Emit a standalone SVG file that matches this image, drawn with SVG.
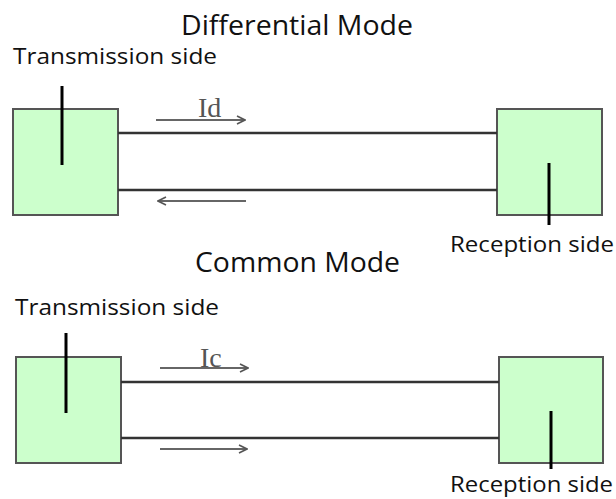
<svg xmlns="http://www.w3.org/2000/svg" width="616" height="499" viewBox="0 0 616 499">
  <defs>
    <marker id="open" viewBox="0 0 10 10" refX="9" refY="5" markerWidth="10" markerHeight="10" markerUnits="userSpaceOnUse" orient="auto">
      <path d="M1,1 L9,5 L1,9" fill="none" stroke="#555" stroke-width="1.6"/>
    </marker>
  </defs>
  <style>
    .box { fill: #ccffcc; stroke: #555; stroke-width: 2; }
    .stub { stroke: #000; stroke-width: 3; }
    .wire { stroke: #333; stroke-width: 2.5; fill: none; }
    .flow { stroke: #666; stroke-width: 2; fill: none; marker-end: url(#open); }
    .title { font-family: "Open Sans", sans-serif; font-size: 27px; fill: #111; }
    .side { font-family: "Open Sans", sans-serif; font-size: 21px; fill: #111; }
    .cur { font-family: "Liberation Serif", serif; font-size: 28px; fill: #555; }
  </style>
  <rect width="616" height="499" fill="#fff"/>

  <!-- differential mode -->
  <text class="title" x="181" y="35" textLength="232" lengthAdjust="spacingAndGlyphs">Differential Mode</text>
  <text class="side" x="13" y="64" textLength="204" lengthAdjust="spacingAndGlyphs">Transmission side</text>
  <text class="side" x="450" y="252" textLength="164" lengthAdjust="spacingAndGlyphs">Reception side</text>
  <g id="dm-tx">
    <rect class="box" x="13" y="109" width="105" height="106"/>
    <line class="stub" x1="62" y1="86" x2="62" y2="165"/>
  </g>
  <g id="dm-rx">
    <rect class="box" x="497" y="109" width="105" height="106"/>
    <line class="stub" x1="549" y1="163" x2="549" y2="225"/>
  </g>
  <g id="dm-links">
    <line class="wire" x1="118" y1="133" x2="497" y2="133"/>
    <line class="wire" x1="118" y1="190" x2="497" y2="190"/>
    <line class="flow" x1="156" y1="120" x2="245" y2="120"/>
    <line class="flow" x1="246" y1="201" x2="158" y2="201"/>
    <text class="cur" x="198" y="117">Id</text>
  </g>

  <!-- common mode -->
  <text class="title" x="195" y="272" textLength="205" lengthAdjust="spacingAndGlyphs">Common Mode</text>
  <text class="side" x="15" y="315" textLength="204" lengthAdjust="spacingAndGlyphs">Transmission side</text>
  <text class="side" x="450" y="492" font-size="20" textLength="163" lengthAdjust="spacingAndGlyphs">Reception side</text>
  <g id="cm-tx">
    <rect class="box" x="16" y="357" width="105" height="106"/>
    <line class="stub" x1="66" y1="333" x2="66" y2="413"/>
  </g>
  <g id="cm-rx">
    <rect class="box" x="499" y="357" width="104" height="106"/>
    <line class="stub" x1="551" y1="411" x2="551" y2="469"/>
  </g>
  <g id="cm-links">
    <line class="wire" x1="121" y1="382" x2="499" y2="382"/>
    <line class="wire" x1="121" y1="438" x2="499" y2="438"/>
    <line class="flow" x1="160" y1="368" x2="248" y2="368"/>
    <line class="flow" x1="160" y1="449" x2="247" y2="449"/>
    <text class="cur" x="200" y="367">Ic</text>
  </g>
</svg>
